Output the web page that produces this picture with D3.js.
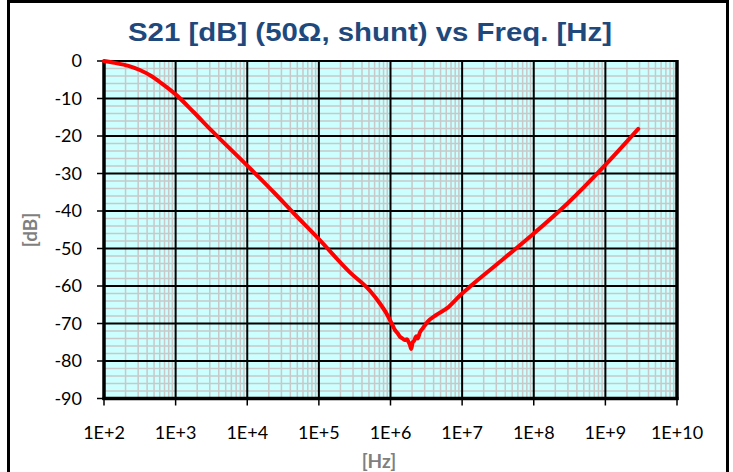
<!DOCTYPE html>
<html>
<head>
    <title>S21 vs Freq</title>
    <script src="https://d3js.org/d3.v7.min.js"></script>
    <style>
        body { margin: 0; background: #fff; }
        .tick-label { font-family: Lato, "Liberation Sans", sans-serif; font-size: 18px; fill: #000; }
        .line { fill: none; stroke: #ff0000; stroke-width: 4px; stroke-linejoin: round; stroke-linecap: round; }
    </style>
</head>
<body>
    <script>
        // Data
        var freqHz = [100, 141, 219, 316, 457, 631, 1000, 1778, 3162, 10000, 15100, 24000, 43600,
            100000, 269000, 513000, 708000, 933000, 1000000, 1070000, 1150000, 1260000, 1350000,
            1450000, 1580000, 1700000, 1780000, 1860000, 1950000, 2040000, 2140000, 2290000,
            2400000, 2570000, 2820000, 3310000, 4370000, 6170000, 8510000, 10000000, 12600000,
            35500000, 100000000, 295000000, 1000000000, 2880000000];
        var s21dB = [0, -0.5, -1.3, -2.4, -4.0, -5.9, -8.9, -13.6, -18.5, -27.9, -31.3, -35.2, -40.4,
            -47.5, -56.3, -61.2, -64.6, -68.2, -69.4, -70.5, -71.7, -72.6, -73.5,
            -73.9, -74.4, -74.2, -74.9, -75.6, -76.8, -75.0, -74.6, -73.4,
            -74.0, -72.4, -71.3, -69.5, -67.7, -65.9, -63.3, -62.0, -60.3,
            -53.2, -46.0, -38.0, -27.7, -18.1];
        var xTickLabels = ["1E+2", "1E+3", "1E+4", "1E+5", "1E+6", "1E+7", "1E+8", "1E+9", "1E+10"];
        var yTicks = [0, -10, -20, -30, -40, -50, -60, -70, -80, -90];

        var W = 733, H = 472;
        var pL = 104, pR = 677, pT = 61, pB = 398.5;

        var x = d3.scaleLog().domain([1e2, 1e10]).range([pL, pR]);
        var y = d3.scaleLinear().domain([-90, 0]).range([pB, pT]);

        var svg = d3.select("body").append("svg")
            .attr("width", W)
            .attr("height", H);

        // outer frame
        svg.append("rect")
            .attr("x", 8.5).attr("y", 1.5)
            .attr("width", 719).attr("height", 480)
            .attr("fill", "#fff").attr("stroke", "#000").attr("stroke-width", 3);

        // title
        svg.append("text")
            .attr("x", 370).attr("y", 41)
            .attr("text-anchor", "middle")
            .attr("font-family", "'Liberation Sans', Arial, sans-serif")
            .attr("font-weight", "bold")
            .attr("font-size", 25)
            .attr("fill", "#1f497d")
            .attr("textLength", 484)
            .attr("lengthAdjust", "spacingAndGlyphs")
            .text("S21 [dB] (50Ω, shunt) vs Freq. [Hz]");

        // plot background
        svg.append("rect")
            .attr("x", pL).attr("y", pT)
            .attr("width", pR - pL).attr("height", pB - pT)
            .attr("fill", "#ccffff");

        // minor grid
        var minorX = [];
        for (var e = 2; e < 10; e++) {
            for (var m = 2; m < 10; m++) minorX.push(m * Math.pow(10, e));
        }
        var minorY = d3.range(-88, 0, 2).filter(function(v) { return v % 10 !== 0; });

        var grid = svg.append("g");
        grid.selectAll(".mx").data(minorX).enter().append("line")
            .attr("x1", function(d) { return x(d); }).attr("x2", function(d) { return x(d); })
            .attr("y1", pT).attr("y2", pB)
            .attr("stroke", "#c8c8c8").attr("stroke-width", 1.5);
        grid.selectAll(".my").data(minorY).enter().append("line")
            .attr("x1", pL).attr("x2", pR)
            .attr("y1", function(d) { return y(d); }).attr("y2", function(d) { return y(d); })
            .attr("stroke", "#c8c8c8").attr("stroke-width", 1.5);

        // major grid
        var majorX = d3.range(2, 11).map(function(e) { return Math.pow(10, e); });
        grid.selectAll(".Mx").data(majorX).enter().append("line")
            .attr("x1", function(d) { return x(d); }).attr("x2", function(d) { return x(d); })
            .attr("y1", pT).attr("y2", pB)
            .attr("stroke", "#000").attr("stroke-width", 2);
        grid.selectAll(".My").data(yTicks).enter().append("line")
            .attr("x1", pL).attr("x2", pR)
            .attr("y1", function(d) { return y(d); }).attr("y2", function(d) { return y(d); })
            .attr("stroke", "#000").attr("stroke-width", 2);

        // plot border (thick left, bottom, right)
        svg.append("line").attr("x1", pL).attr("x2", pL).attr("y1", pT - 1).attr("y2", pB + 1.5)
            .attr("stroke", "#000").attr("stroke-width", 3.5);
        svg.append("line").attr("x1", pL - 1.5).attr("x2", pR + 1.5).attr("y1", pB).attr("y2", pB)
            .attr("stroke", "#000").attr("stroke-width", 3.5);
        svg.append("line").attr("x1", pR).attr("x2", pR).attr("y1", pT - 1).attr("y2", pB + 1.5)
            .attr("stroke", "#000").attr("stroke-width", 3.5);

        // tick marks
        svg.selectAll(".yt").data(yTicks).enter().append("line")
            .attr("x1", pL - 7).attr("x2", pL)
            .attr("y1", function(d) { return y(d); }).attr("y2", function(d) { return y(d); })
            .attr("stroke", "#000").attr("stroke-width", 1.5);
        svg.selectAll(".xt").data(majorX).enter().append("line")
            .attr("x1", function(d) { return x(d); }).attr("x2", function(d) { return x(d); })
            .attr("y1", pB).attr("y2", pB + 7)
            .attr("stroke", "#000").attr("stroke-width", 1.5);

        // tick labels
        svg.selectAll(".ylab").data(yTicks).enter().append("text")
            .attr("class", "tick-label")
            .attr("x", pL - 22)
            .attr("y", function(d) { return y(d); })
            .attr("dy", "0.35em")
            .attr("text-anchor", "end")
            .text(function(d) { return d; });
        svg.selectAll(".xlab").data(majorX).enter().append("text")
            .attr("class", "tick-label")
            .attr("x", function(d) { return x(d); })
            .attr("y", 439)
            .attr("text-anchor", "middle")
            .text(function(d, i) { return xTickLabels[i]; });

        // axis titles
        svg.append("text")
            .attr("transform", "translate(37,230) rotate(-90)")
            .attr("text-anchor", "middle")
            .attr("font-family", "Lato, 'Liberation Sans', sans-serif")
            .attr("font-weight", "bold")
            .attr("font-size", 19)
            .attr("fill", "#7f7f7f")
            .text("[dB]");
        svg.append("text")
            .attr("x", 379).attr("y", 468)
            .attr("text-anchor", "middle")
            .attr("font-family", "Lato, 'Liberation Sans', sans-serif")
            .attr("font-weight", "bold")
            .attr("font-size", 19)
            .attr("fill", "#7f7f7f")
            .text("[Hz]");

        // S21 curve
        var pts = freqHz.map(function(f, i) { return {f: f, v: s21dB[i]}; });
        var valueline = d3.line()
            .curve(d3.curveMonotoneX)
            .x(function(d) { return x(d.f); })
            .y(function(d) { return y(d.v); });
        svg.append("path")
            .datum(pts)
            .attr("class", "line")
            .attr("d", valueline);
    </script>
</body>
</html>
